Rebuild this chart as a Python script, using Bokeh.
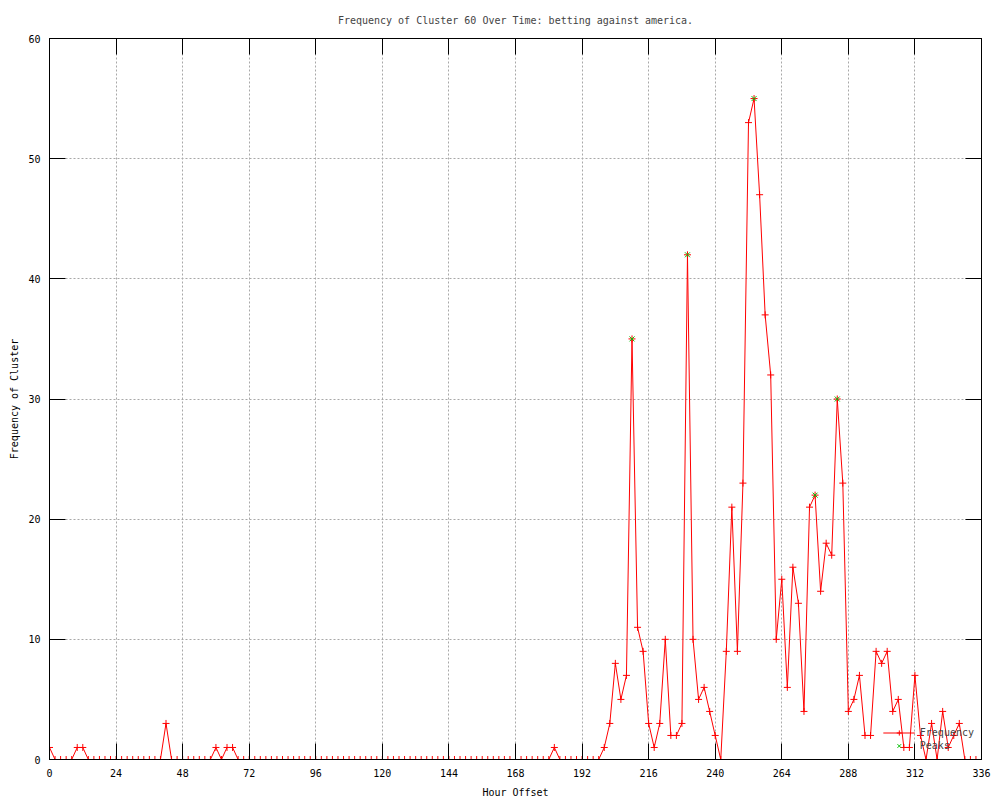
from bokeh.plotting import figure
from bokeh.models import Range1d, LinearAxis, FixedTicker, Legend, LegendItem
from bokeh.embed import file_html
from bokeh.resources import INLINE

hours = [
    0, 2, 4, 6, 8, 10, 12, 14, 16, 18, 20, 22,
    24, 26, 28, 30, 32, 34, 36, 38, 40, 42, 44, 46,
    48, 50, 52, 54, 56, 58, 60, 62, 64, 66, 68, 70,
    72, 74, 76, 78, 80, 82, 84, 86, 88, 90, 92, 94,
    96, 98, 100, 102, 104, 106, 108, 110, 112, 114, 116, 118,
    120, 122, 124, 126, 128, 130, 132, 134, 136, 138, 140, 142,
    144, 146, 148, 150, 152, 154, 156, 158, 160, 162, 164, 166,
    168, 170, 172, 174, 176, 178, 180, 182, 184, 186, 188, 190,
    192, 194, 196, 198, 200, 202, 204, 206, 208, 210, 212, 214,
    216, 218, 220, 222, 224, 226, 228, 230, 232, 234, 236, 238,
    240, 242, 244, 246, 248, 250, 252, 254, 256, 258, 260, 262,
    264, 266, 268, 270, 272, 274, 276, 278, 280, 282, 284, 286,
    288, 290, 292, 294, 296, 298, 300, 302, 304, 306, 308, 310,
    312, 314, 316, 318, 320, 322, 324, 326, 328, 330, 332, 334,
]
frequency = [
    1, 0, 0, 0, 0, 1, 1, 0, 0, 0, 0, 0,
    0, 0, 0, 0, 0, 0, 0, 0, 0, 3, 0, 0,
    0, 0, 0, 0, 0, 0, 1, 0, 1, 1, 0, 0,
    0, 0, 0, 0, 0, 0, 0, 0, 0, 0, 0, 0,
    0, 0, 0, 0, 0, 0, 0, 0, 0, 0, 0, 0,
    0, 0, 0, 0, 0, 0, 0, 0, 0, 0, 0, 0,
    0, 0, 0, 0, 0, 0, 0, 0, 0, 0, 0, 0,
    0, 0, 0, 0, 0, 0, 0, 1, 0, 0, 0, 0,
    0, 0, 0, 0, 1, 3, 8, 5, 7, 35, 11, 9,
    3, 1, 3, 10, 2, 2, 3, 42, 10, 5, 6, 4,
    2, 0, 9, 21, 9, 23, 53, 55, 47, 37, 32, 10,
    15, 6, 16, 13, 4, 21, 22, 14, 18, 17, 30, 23,
    4, 5, 7, 2, 2, 9, 8, 9, 4, 5, 1, 1,
    7, 2, 0, 3, 0, 4, 1, 2, 3, 0, 0, 0,
]
peak_hours = [210, 230, 254, 276, 284]
peak_values = [35, 42, 55, 22, 30]

x_ticks = [0, 24, 48, 72, 96, 120, 144, 168, 192, 216, 240, 264, 288, 312, 336]
y_ticks = [0, 10, 20, 30, 40, 50, 60]

FONT = "DejaVu Sans Mono"
FS = "10px"

p = figure(width=1000, height=800, output_backend="svg", toolbar_location=None,
           x_range=Range1d(0, 336), y_range=Range1d(0, 60),
           min_border_left=49, min_border_right=19, min_border_top=38, min_border_bottom=40,
           title="Frequency of Cluster 60 Over Time: betting against america.")

p.background_fill_color = "white"
p.border_fill_color = "white"
p.outline_line_color = "black"
p.outline_line_width = 1

p.title.text_font = FONT
p.title.text_font_size = FS
p.title.text_font_style = "normal"
p.title.align = "center"
p.title.standoff = 25

# grid
p.xgrid.ticker = FixedTicker(ticks=x_ticks)
p.ygrid.ticker = FixedTicker(ticks=y_ticks)
for g in (p.xgrid, p.ygrid):
    g.grid_line_color = "#a8a8a8"
    g.grid_line_dash = "2 2"
    g.grid_line_width = 1

def style_axis(ax, ticks, labels=True):
    ax.ticker = FixedTicker(ticks=ticks)
    ax.major_tick_in = 16
    ax.major_tick_out = 0
    ax.major_tick_line_color = "black"
    ax.minor_tick_line_color = None
    ax.axis_line_color = "black"
    ax.major_label_text_font = FONT
    ax.major_label_text_font_size = FS
    ax.major_label_text_color = "black"
    ax.axis_label_text_font = FONT
    ax.axis_label_text_font_size = FS
    ax.axis_label_text_font_style = "normal"
    ax.axis_label_text_color = "black"
    if not labels:
        ax.major_label_overrides = {t: "" for t in ticks}
        ax.major_label_standoff = 0

xa = p.xaxis[0]
ya = p.yaxis[0]
style_axis(xa, x_ticks)
style_axis(ya, y_ticks)
xa.axis_label = "Hour Offset"
ya.axis_label = "Frequency of Cluster"
xa.major_label_standoff = 9
ya.major_label_standoff = 9
xa.axis_label_standoff = 7
ya.axis_label_standoff = 5

top_ax = LinearAxis()
style_axis(top_ax, x_ticks, labels=False)
p.add_layout(top_ax, "above")
right_ax = LinearAxis()
style_axis(right_ax, y_ticks, labels=False)
p.add_layout(right_ax, "right")

line_r = p.line(hours, frequency, line_color="red", line_width=1)
pts_r = p.scatter(hours, frequency, marker="cross", size=7, line_color="red", line_width=1)
peak_r = p.scatter(peak_hours, peak_values, marker="x", size=7, line_color="#00c000", line_width=1)

legend = Legend(items=[LegendItem(label="Frequency", renderers=[line_r, pts_r]),
                       LegendItem(label="Peaks", renderers=[peak_r])],
                location="bottom_right")
legend.margin = 7
legend.padding = 0
legend.spacing = 0
legend.glyph_width = 32
legend.glyph_height = 13
legend.label_height = 13
legend.label_standoff = 5
legend.label_text_font = FONT
legend.label_text_font_size = FS
legend.background_fill_alpha = 0
legend.border_line_color = None
p.add_layout(legend)

open("out.html", "w").write(file_html(p, INLINE))
